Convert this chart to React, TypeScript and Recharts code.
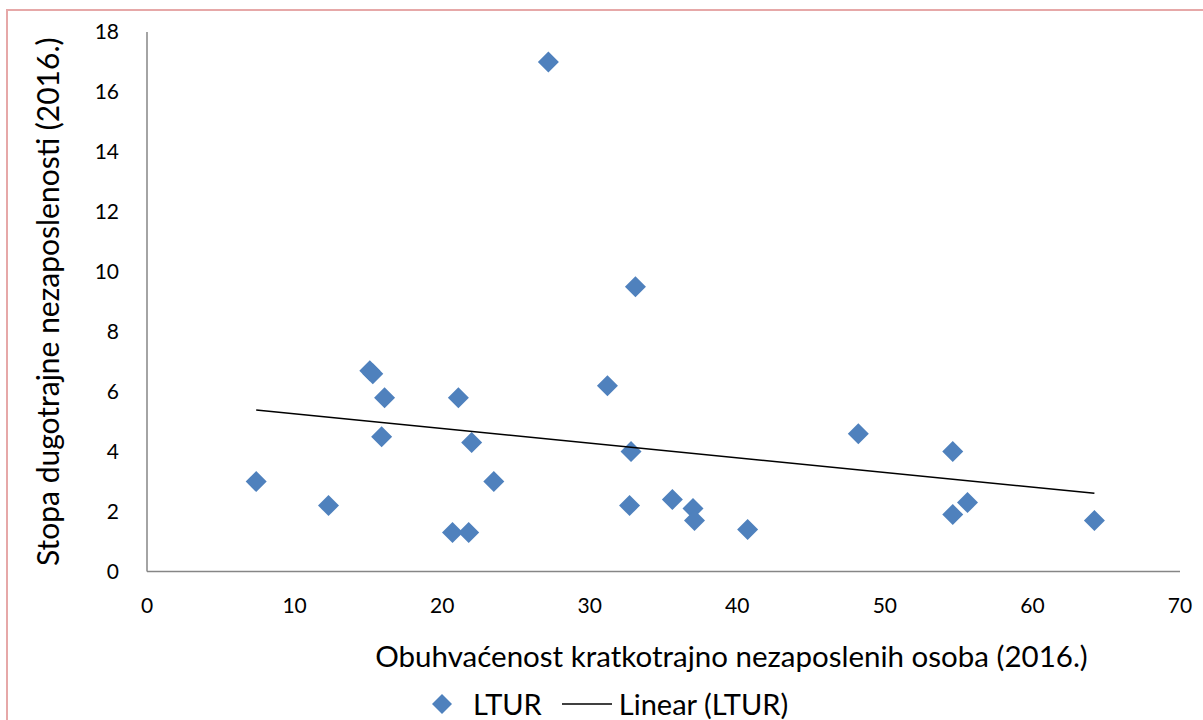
import React from 'react';
import {
  ScatterChart,
  Scatter,
  XAxis,
  YAxis,
  Label,
} from 'recharts';

// LTUR points
const coverage = [
  7.4, 12.3, 15.1, 15.3, 16.1, 15.9, 20.7, 21.1, 21.8, 22.0, 23.5, 27.2,
  31.2, 32.7, 32.8, 33.1, 35.6, 37.0, 37.1, 40.7, 48.2, 54.6, 54.6, 55.6, 64.2,
];
const ltur = [
  3.0, 2.2, 6.7, 6.6, 5.8, 4.5, 1.3, 5.8, 1.3, 4.3, 3.0, 17.0,
  6.2, 2.2, 4.0, 9.5, 2.4, 2.1, 1.7, 1.4, 4.6, 4.0, 1.9, 2.3, 1.7,
];

// linear trend end points (Excel trendline)
const trendX = [7.4, 64.2];
const trendY = [5.39, 2.61];

const xTicks = [0, 10, 20, 30, 40, 50, 60, 70];
const yTicks = [0, 2, 4, 6, 8, 10, 12, 14, 16, 18];

const points = coverage.map((x, i) => ({ x, y: ltur[i] }));
const trend = trendX.map((x, i) => ({ x, y: trendY[i] }));

const BLUE = '#4F81BD';
const FONT = 'Lato, "Open Sans", sans-serif';

const Diamond = (props: any) => {
  const { cx, cy } = props;
  const r = 10.5;
  return (
    <polygon
      points={`${cx},${cy - r} ${cx + r},${cy} ${cx},${cy + r} ${cx - r},${cy}`}
      fill={BLUE}
    />
  );
};

const YTitle = (props: any) => {
  const { viewBox } = props;
  const cx = 47;
  const cy = viewBox.y + viewBox.height / 2;
  return (
    <text
      x={cx}
      y={cy}
      transform={`rotate(-90 ${cx} ${cy})`}
      textAnchor="middle"
      dominantBaseline="central"
      fontSize={30}
      fontFamily={FONT}
      fill="#000"
    >
      Stopa dugotrajne nezaposlenosti (2016.)
    </text>
  );
};

export default function App() {
  return (
    <div
      style={{
        position: 'absolute',
        left: 0,
        top: 0,
        width: 1203,
        height: 720,
        overflow: 'hidden',
        background: '#fff',
        fontFamily: FONT,
      }}
    >
      <div
        style={{
          position: 'absolute',
          left: 6,
          top: 9,
          width: 1300,
          height: 800,
          borderTop: '2px solid #E6A8A8',
          borderLeft: '2px solid #E6A8A8',
        }}
      />
      <ScatterChart
        width={1203}
        height={720}
        margin={{ top: 32, right: 23, bottom: 38.5, left: 47 }}
        style={{ position: 'absolute', left: 0, top: 0 }}
      >
        <XAxis
          type="number"
          dataKey="x"
          domain={[0, 70]}
          ticks={xTicks}
          tickLine={false}
          axisLine={{ stroke: '#868686', strokeWidth: 1.5 }}
          tick={{ fill: '#000', fontSize: 21, fontFamily: FONT }}
          tickMargin={21}
          height={110}
        >
          <Label
            value="Obuhvaćenost kratkotrajno nezaposlenih osoba (2016.)"
            position="insideBottom"
            offset={14.5}
            fill="#000"
            fontSize={29.5}
            fontFamily={FONT}
            dx={68}
          />
        </XAxis>
        <YAxis
          type="number"
          dataKey="y"
          domain={[0, 18]}
          ticks={yTicks}
          tickLine={false}
          axisLine={{ stroke: '#868686', strokeWidth: 1.5 }}
          tick={{ fill: '#000', fontSize: 21, fontFamily: FONT }}
          tickMargin={22}
          width={100}
        >
          <Label content={<YTitle />} />
        </YAxis>
        <Scatter
          name="LTUR"
          data={points}
          shape={<Diamond />}
          isAnimationActive={false}
        />
        <Scatter
          name="Linear (LTUR)"
          data={trend}
          line={{ stroke: '#000', strokeWidth: 1.5 }}
          shape={() => <g />}
          isAnimationActive={false}
        />
      </ScatterChart>
      <div
        style={{
          position: 'absolute',
          left: 432,
          top: 688,
          height: 32,
          lineHeight: '32px',
          display: 'flex',
          alignItems: 'center',
          fontSize: 29,
          color: '#000',
          whiteSpace: 'nowrap',
        }}
      >
        <svg width={20} height={20} style={{ marginRight: 21 }}>
          <polygon points="10,0 20,10 10,20 0,10" fill={BLUE} />
        </svg>
        <span>LTUR</span>
        <svg width={50} height={4} style={{ margin: '0 7px 0 20px' }}>
          <line x1={0} y1={2} x2={50} y2={2} stroke="#000" strokeWidth={1.5} />
        </svg>
        <span>Linear (LTUR)</span>
      </div>
    </div>
  );
}
